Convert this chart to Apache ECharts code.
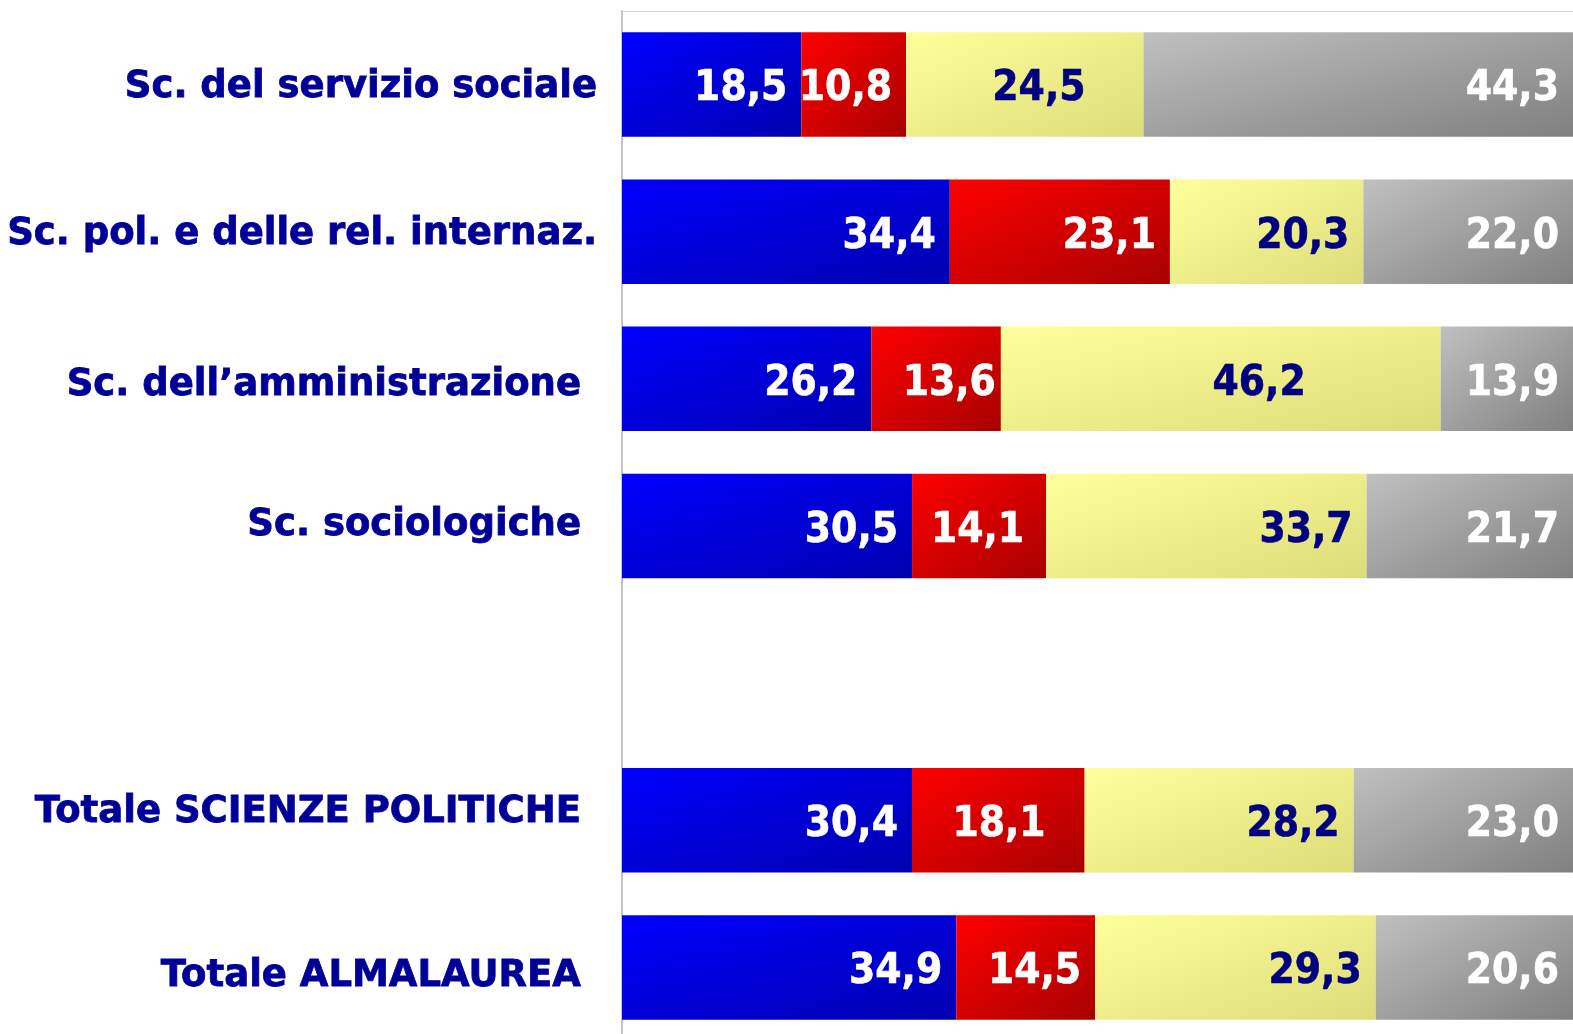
<!DOCTYPE html>
<html>
<head>
<meta charset="utf-8">
<script src="https://cdn.jsdelivr.net/npm/echarts@6/dist/echarts.min.js"></script>
<style>
  html, body { margin: 0; padding: 0; background: #fff; overflow: hidden; }
  #chart { width: 1573px; height: 1041px; }
</style>
</head>
<body>
<div id="chart"></div>
<script>
// corsi di laurea (la riga vuota e' lo spazio prima dei totali)
const categories = [
  'Sc. del servizio sociale',
  'Sc. pol. e delle rel. internaz.',
  'Sc. dell\u2019amministrazione',
  'Sc. sociologiche',
  '',
  'Totale SCIENZE POLITICHE',
  'Totale ALMALAUREA'
];
const serie1 = [18.5, 34.4, 26.2, 30.5, null, 30.4, 34.9];
const serie2 = [10.8, 23.1, 13.6, 14.1, null, 18.1, 14.5];
const serie3 = [24.5, 20.3, 46.2, 33.7, null, 28.2, 29.3];
const serie4 = [44.3, 22.0, 13.9, 21.7, null, 23.0, 20.6];

// spostamenti etichette (px) e stile etichette asse
const labelShift = [
  {},
  {2: 9, 3: -8, 5: -25},
  {0: -44, 2: -121},
  {}
];
const catLabel = [
  [0, 3], [0, 3], [16, 7], [16, -1], [0, 0], [16, -8], [16, 9]
];

const labelFont = "'DejaVu Sans Condensed', 'DejaVu Sans', Verdana, sans-serif";
const plotW = 951, barH = 105;

// gradiente diagonale come nel grafico originale (in spazio del rettangolo)
function grad(c1, c2, w) {
  const W = Math.max(w, 1), H = barH;
  const L2 = W * W + H * H;
  return new echarts.graphic.LinearGradient(0, 0, 2 * H * H / L2, 2 * W * W / L2, [
    {offset: 0, color: c1},
    {offset: 1, color: c2}
  ]);
}

const allSeries = [serie1, serie2, serie3, serie4];
const totals = categories.map((c, i) =>
  allSeries.reduce((s, arr) => s + (arr[i] || 0), 0));

const colors = [
  ['#0000ff', '#0000b0'],
  ['#ff0000', '#a80000'],
  ['#ffff9c', '#dcdc78'],
  ['#c0c0c0', '#808080']
];
const textColors = ['#ffffff', '#ffffff', '#000080', '#ffffff'];

const chart = echarts.init(document.getElementById('chart'));

const rich = {};
catLabel.forEach((c, i) => {
  const dy = c[1];
  rich['r' + i] = {
    color: '#000099',
    fontSize: 37,
    fontWeight: 'bold',
    fontFamily: "'DejaVu Sans', Verdana, sans-serif",
    textBorderColor: '#000099',
    textBorderWidth: 0.8,
    padding: dy >= 0 ? [2 * dy, c[0], 0, 0] : [0, c[0], -2 * dy, 0]
  };
});

chart.setOption({
  animation: false,
  grid: {
    left: 622,
    right: 0,
    top: 11,
    bottom: 0
  },
  xAxis: {
    type: 'value',
    min: 0,
    max: 100,
    position: 'top',
    axisLine: {show: true, lineStyle: {color: '#d4d4d4', width: 1}},
    axisTick: {show: false},
    axisLabel: {show: false},
    splitLine: {show: false}
  },
  yAxis: {
    type: 'category',
    inverse: true,
    data: categories,
    axisLine: {show: true, lineStyle: {color: '#c4c4c4', width: 2}},
    axisTick: {show: false},
    axisLabel: {
      margin: 25,
      formatter: (v, i) => v ? '{r' + i + '|' + v + '}' : '',
      rich: rich
    }
  },
  series: allSeries.map((arr, k) => ({
    name: 'serie ' + (k + 1),
    type: 'bar',
    stack: 'tot',
    barWidth: '71%',
    label: {
      show: true,
      position: 'insideRight',
      distance: 14,
      offset: [0, 5],
      color: textColors[k],
      fontSize: 42,
      fontWeight: 'bold',
      fontFamily: labelFont,
      textBorderColor: textColors[k],
      textBorderWidth: 0.6,
      formatter: p => p.data.raw.toFixed(1).replace('.', ',')
    },
    data: arr.map((v, i) => {
      if (v === null) return null;
      const pct = v / totals[i] * 100;
      const item = {
        value: pct,
        raw: v,
        itemStyle: {color: grad(colors[k][0], colors[k][1], pct / 100 * plotW)}
      };
      if (labelShift[k][i] !== undefined) {
        item.label = {offset: [labelShift[k][i], 5]};
      }
      return item;
    })
  }))
});
</script>
</body>
</html>
